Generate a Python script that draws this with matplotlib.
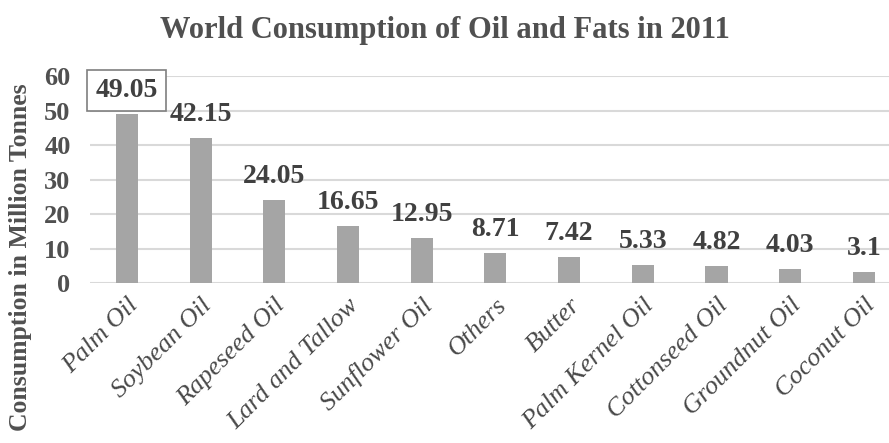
import matplotlib.pyplot as plt

# datos del grafico
aceites = ["Palm Oil", "Soybean Oil", "Rapeseed Oil", "Lard and Tallow", "Sunflower Oil",
           "Others", "Butter", "Palm Kernel Oil", "Cottonseed Oil", "Groundnut Oil", "Coconut Oil"]
consumo = [49.05, 42.15, 24.05, 16.65, 12.95, 8.71, 7.42, 5.33, 4.82, 4.03, 3.1]
etiquetas = ["49.05", "42.15", "24.05", "16.65", "12.95", "8.71", "7.42", "5.33", "4.82", "4.03", "3.1"]

plt.rcParams['font.family'] = ['Liberation Serif', 'DejaVu Serif']

fig = plt.figure(figsize=(8.89, 4.43), dpi=100)
ax = fig.add_axes([90/889, 0.361, 1 - 90/889, 0.467])

x = range(len(aceites))
ax.bar(x, consumo, width=0.3, color="#a5a5a5", zorder=3)

for i, (v, t) in enumerate(zip(consumo, etiquetas)):
    caja = None
    if i == 0:
        caja = dict(boxstyle="square,pad=0.3", fc="white", ec="#7f7f7f", lw=1.2)
    ax.annotate(t, (i, v), xytext=(0, 8), textcoords="offset points", ha="center", va="bottom",
                fontsize=20, fontweight="bold", color="#404040", bbox=caja, annotation_clip=False, zorder=4)

ax.set_xlim(-0.5, 10.34)
ax.set_ylim(0, 60)
ax.set_yticks(range(0, 61, 10))
ax.set_xticks(list(x))
ax.set_xticklabels(aceites, rotation=45, ha="right", rotation_mode="anchor",
                   fontsize=19, color="#484848", style="italic")
ax.tick_params(axis="y", labelsize=19, colors="#505050", length=0, pad=14)
ax.tick_params(axis="x", length=0, pad=8)
for lab in ax.get_yticklabels():
    lab.set_fontweight("bold")

ax.grid(axis="y", color="#d9d9d9", linewidth=1.5, zorder=0)
for s in ax.spines.values():
    s.set_visible(False)

ax.set_ylabel("Consumption in Million Tonnes", fontsize=18.5, fontweight="bold", color="#505050")
ax.yaxis.set_label_coords(-0.073, 0.126)
fig.text(0.5, 0.932, "World Consumption of Oil and Fats in 2011", ha="center", va="center",
         fontsize=22, fontweight="bold", color="#505050")

fig.savefig("out.png", dpi=100)
